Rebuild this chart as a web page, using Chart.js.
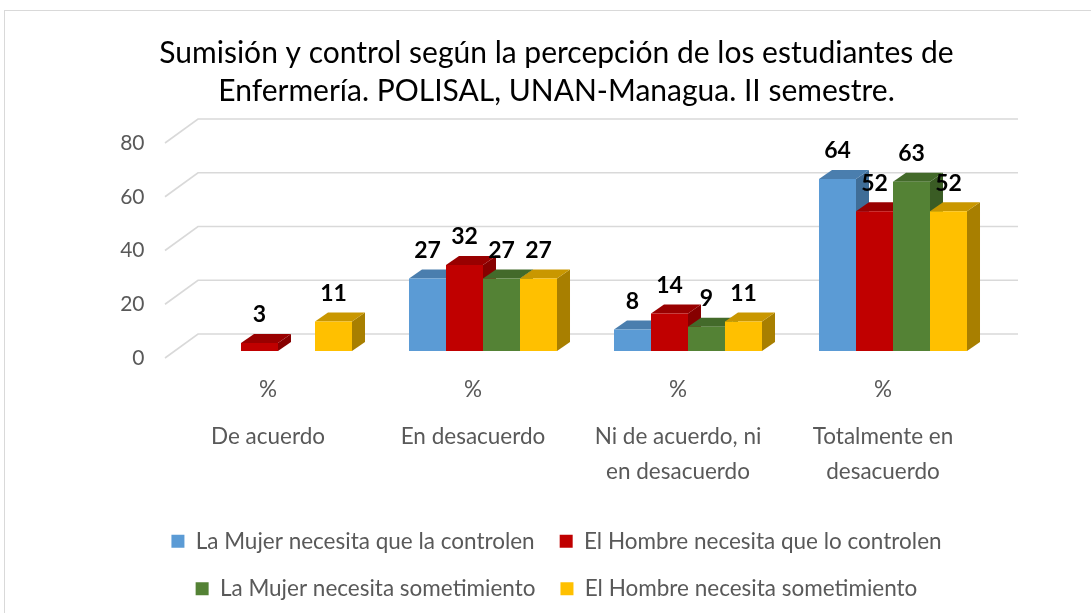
<!DOCTYPE html>
<html>
<head>
<meta charset="utf-8">
<title>Sumisión y control</title>
<script src="https://cdn.jsdelivr.net/npm/chart.js@4"></script>
<style>
  body { margin: 0; background: #fff; }
</style>
</head>
<body>
<canvas id="chart" width="1091" height="613"></canvas>
<script>
// data
const categories = ['De acuerdo', 'En desacuerdo', 'Ni de acuerdo, ni en desacuerdo', 'Totalmente en desacuerdo'];
const categoryLines = ['De acuerdo', 'En desacuerdo', ['Ni de acuerdo, ni', 'en desacuerdo'], ['Totalmente en', 'desacuerdo']];
const unitLabel = '%';
const seriesNames = [
    'La Mujer necesita que la controlen',
    'El Hombre necesita que lo controlen',
    'La Mujer necesita sometimiento',
    'El Hombre necesita sometimiento'
];
const mujerControl = [null, 27, 8, 64];
const hombreControl = [3, 32, 14, 52];
const mujerSometimiento = [null, 27, 9, 63];
const hombreSometimiento = [11, 27, 11, 52];
const yTicks = [0, 20, 40, 60, 80];

const frontColors = ['#5B9BD5', '#C00000', '#548235', '#FFC000'];
const topColors = ['#4A7EAE', '#990000', '#436A2A', '#C99700'];
const sideColors = ['#3F6D97', '#860000', '#3A5C24', '#A87F00'];

const depth = { dx: 13, dy: 9 };

Chart.defaults.font.family = 'Lato';

// background frame + floor/wall grid
const framePlugin = {
    id: 'frame',
    beforeDraw(chart) {
        const ctx = chart.ctx;
        ctx.save();
        ctx.fillStyle = '#fff';
        ctx.fillRect(0, 0, chart.width, chart.height);
        ctx.strokeStyle = '#d9d9d9';
        ctx.lineWidth = 1;
        ctx.strokeRect(4.5, 10.5, chart.width + 20, chart.height + 20);
        ctx.restore();
    },
    beforeDatasetsDraw(chart) {
        const { ctx, chartArea } = chart;
        const y = chart.scales.y;
        ctx.save();
        ctx.strokeStyle = '#d9d9d9';
        ctx.lineWidth = 1.6;
        yTicks.forEach(v => {
            const py = y.getPixelForValue(v);
            ctx.beginPath();
            ctx.moveTo(chartArea.left - 10.5, py + 7);
            ctx.lineTo(chartArea.left + 22.5, py - 17);
            ctx.lineTo(chartArea.right + 22.5, py - 17);
            ctx.stroke();
        });
        ctx.restore();
    }
};

// top and side faces of each bar, drawn from the bar elements
const bars3dPlugin = {
    id: 'bars3d',
    beforeDatasetsDraw(chart) {
        const ctx = chart.ctx;
        ctx.save();
        chart.data.datasets.forEach((ds, i) => {
            const meta = chart.getDatasetMeta(i);
            meta.data.forEach((bar, j) => {
                if (ds.data[j] == null) return;
                const { x, y, base, width } = bar.getProps(['x', 'y', 'base', 'width'], true);
                const l = x - width / 2, r = x + width / 2;
                ctx.fillStyle = sideColors[i];
                ctx.beginPath();
                ctx.moveTo(r, y);
                ctx.lineTo(r + depth.dx, y - depth.dy);
                ctx.lineTo(r + depth.dx, base - depth.dy);
                ctx.lineTo(r, base);
                ctx.closePath();
                ctx.fill();
                ctx.fillStyle = topColors[i];
                ctx.beginPath();
                ctx.moveTo(l, y);
                ctx.lineTo(l + depth.dx, y - depth.dy);
                ctx.lineTo(r + depth.dx, y - depth.dy);
                ctx.lineTo(r, y);
                ctx.closePath();
                ctx.fill();
            });
        });
        ctx.restore();
    },
    afterDatasetsDraw(chart) {
        const ctx = chart.ctx;
        ctx.save();
        ctx.font = 'bold 23px Lato';
        ctx.fillStyle = '#000';
        ctx.textAlign = 'center';
        ctx.textBaseline = 'middle';
        chart.data.datasets.forEach((ds, i) => {
            const meta = chart.getDatasetMeta(i);
            meta.data.forEach((bar, j) => {
                if (ds.data[j] == null) return;
                ctx.fillText(String(ds.data[j]), bar.x, bar.y - 28);
            });
        });
        ctx.restore();
    }
};

const seriesData = [mujerControl, hombreControl, mujerSometimiento, hombreSometimiento];

new Chart(document.getElementById('chart'), {
    type: 'bar',
    data: {
        labels: categories,
        datasets: seriesData.map((d, i) => ({
            label: seriesNames[i],
            data: d,
            backgroundColor: frontColors[i],
            borderWidth: 0,
            categoryPercentage: 0.722,
            barPercentage: 1
        }))
    },
    options: {
        responsive: false,
        animation: false,
        layout: { padding: { left: 22, right: 0, top: 0, bottom: 3 } },
        scales: {
            x: {
                weight: 0,
                grid: { display: false, drawTicks: false },
                border: { display: false },
                ticks: {
                    callback: () => unitLabel,
                    padding: 25.5,
                    labelOffset: -10,
                    maxRotation: 0,
                    color: '#595959',
                    font: { size: 22.5 }
                },
                afterFit: s => { s.height = 52.5; }
            },
            names: {
                type: 'category',
                position: 'bottom',
                labels: categoryLines,
                offset: true,
                weight: 1,
                grid: { display: false, drawTicks: false },
                border: { display: false },
                ticks: {
                    padding: 16,
                    labelOffset: -10,
                    maxRotation: 0,
                    autoSkip: false,
                    color: '#595959',
                    font: { size: 22.5, lineHeight: '35px' }
                },
                afterFit: s => { s.height = 101.5; }
            },
            y: {
                min: 0,
                max: 80,
                grid: { display: false, drawTicks: false },
                border: { display: false },
                ticks: {
                    stepSize: 20,
                    padding: 31,
                    labelOffset: 7,
                    color: '#595959',
                    font: { size: 21 }
                },
                afterFit: s => { s.width = 153.5; }
            },
            yRight: {
                type: 'linear',
                position: 'right',
                grid: { display: false, drawTicks: false },
                border: { display: false },
                ticks: { display: false },
                afterFit: s => { s.width = 95.5; }
            }
        },
        plugins: {
            title: {
                display: true,
                text: ['Sumisión y control según la percepción de los estudiantes de', 'Enfermería. POLISAL, UNAN-Managua. II semestre.'],
                color: '#000',
                font: { size: 30, weight: 'normal', lineHeight: '38px' },
                padding: { top: 34, bottom: 26 }
            },
            legend: {
                position: 'bottom',
                labels: {
                    boxWidth: 13,
                    boxHeight: 13,
                    padding: 25,
                    color: '#595959',
                    font: { size: 22.5 }
                }
            },
            tooltip: { enabled: false }
        }
    },
    plugins: [framePlugin, bars3dPlugin]
});
</script>
</body>
</html>
